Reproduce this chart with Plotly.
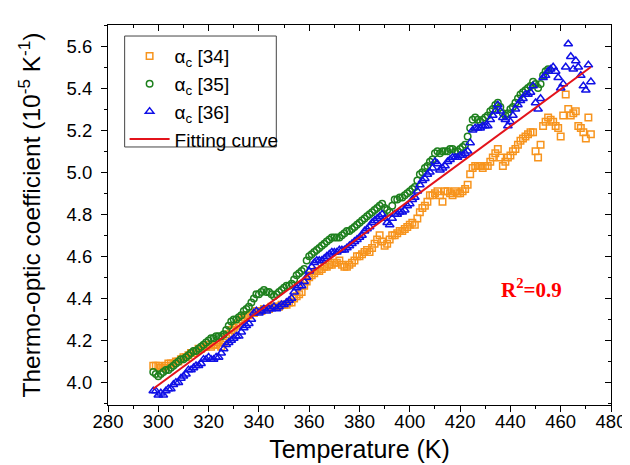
import plotly.graph_objects as go

# Temperature grid (K), one reading per kelvin
temp_34 = list(range(298, 473))
temp_35 = list(range(298, 456))
temp_36 = list(range(298, 473))

alpha_34 = [
    4.08, 4.08, 4.08, 4.07, 4.07, 4.08, 4.09, 4.09, 4.09, 4.10,
    4.10, 4.11, 4.12, 4.12, 4.13, 4.14, 4.14, 4.15, 4.16, 4.16,
    4.17, 4.17, 4.18, 4.17, 4.18, 4.18, 4.19, 4.17, 4.19, 4.21,
    4.23, 4.25, 4.26, 4.27, 4.28, 4.30, 4.31, 4.32, 4.32, 4.33,
    4.33, 4.34, 4.34, 4.34, 4.35, 4.35, 4.35, 4.36, 4.36, 4.36,
    4.36, 4.37, 4.37, 4.37, 4.38, 4.38, 4.40, 4.41, 4.42, 4.43,
    4.46, 4.48, 4.50, 4.51, 4.52, 4.53, 4.53, 4.54, 4.55, 4.55,
    4.56, 4.56, 4.57, 4.57, 4.58, 4.56, 4.55, 4.55, 4.56, 4.57,
    4.58, 4.60, 4.60, 4.61, 4.62, 4.63, 4.62, 4.64, 4.66, 4.68,
    4.70, 4.67, 4.65, 4.66, 4.68, 4.70, 4.70, 4.71, 4.72, 4.72,
    4.73, 4.74, 4.75, 4.76, 4.75, 4.78, 4.81, 4.83, 4.84, 4.86,
    4.89, 4.89, 4.90, 4.91, 4.89, 4.86, 4.91, 4.91, 4.90, 4.89,
    4.91, 4.90, 4.90, 4.91, 4.92, 4.94, 4.99, 5.02, 5.03, 5.03,
    5.03, 5.02, 5.03, 5.03, 5.05, 5.07, 5.09, 5.11, 5.07, 5.03,
    5.05, 5.07, 5.08, 5.10, 5.11, 5.13, 5.15, 5.16, 5.17, 5.18,
    5.19, 5.19, 5.10, 5.07, 5.13, 5.22, 5.24, 5.26, 5.25, 5.24,
    5.22, 5.21, 5.17, 5.27, 5.37, 5.30, 5.27, 5.28, 5.29, 5.22,
    5.21, 5.19, 5.16, 5.26, 5.18,
]

alpha_35 = [
    4.05, 4.04, 4.03, 4.04, 4.05, 4.06, 4.06, 4.07, 4.08, 4.09,
    4.10, 4.11, 4.11, 4.12, 4.13, 4.14, 4.15, 4.15, 4.16, 4.17,
    4.18, 4.19, 4.20, 4.21, 4.21, 4.22, 4.22, 4.22, 4.23, 4.25,
    4.27, 4.29, 4.30, 4.30, 4.31, 4.32, 4.34, 4.35, 4.36, 4.38,
    4.40, 4.42, 4.42, 4.43, 4.44, 4.43, 4.43, 4.42, 4.41, 4.42,
    4.43, 4.44, 4.45, 4.46, 4.46, 4.47, 4.49, 4.51, 4.52, 4.53,
    4.54, 4.58, 4.60, 4.61, 4.62, 4.63, 4.64, 4.65, 4.66, 4.67,
    4.68, 4.69, 4.69, 4.69, 4.69, 4.70, 4.71, 4.72, 4.72, 4.73,
    4.74, 4.75, 4.76, 4.77, 4.78, 4.79, 4.80, 4.81, 4.82, 4.83,
    4.84, 4.85, 4.83, 4.82, 4.81, 4.84, 4.87, 4.87, 4.88, 4.88,
    4.89, 4.90, 4.91, 4.92, 4.93, 4.96, 4.99, 5.00, 5.02, 5.03,
    5.05, 5.06, 5.09, 5.10, 5.09, 5.10, 5.10, 5.10, 5.11, 5.11,
    5.10, 5.10, 5.11, 5.12, 5.13, 5.17, 5.21, 5.25, 5.26, 5.25,
    5.24, 5.25, 5.26, 5.27, 5.29, 5.30, 5.32, 5.33, 5.31, 5.28,
    5.27, 5.28, 5.30, 5.31, 5.33, 5.35, 5.37, 5.38, 5.39, 5.40,
    5.41, 5.43, 5.42, 5.40, 5.42, 5.46, 5.48, 5.49,
]

alpha_36 = [
    3.96, 3.96, 3.94, 3.95, 3.94, 3.96, 3.97, 3.97, 3.99, 4.00,
    4.00, 4.02, 4.03, 4.04, 4.06, 4.06, 4.07, 4.08, 4.08, 4.09,
    4.11, 4.11, 4.12, 4.11, 4.11, 4.12, 4.12, 4.14, 4.16, 4.18,
    4.19, 4.20, 4.21, 4.22, 4.22, 4.24, 4.26, 4.27, 4.28, 4.30,
    4.33, 4.34, 4.33, 4.34, 4.35, 4.34, 4.35, 4.35, 4.36, 4.35,
    4.36, 4.37, 4.37, 4.38, 4.39, 4.40, 4.43, 4.45, 4.46, 4.46,
    4.48, 4.50, 4.53, 4.55, 4.57, 4.58, 4.58, 4.58, 4.59, 4.60,
    4.61, 4.62, 4.62, 4.62, 4.63, 4.63, 4.63, 4.64, 4.65, 4.66,
    4.67, 4.68, 4.69, 4.70, 4.72, 4.73, 4.74, 4.76, 4.77, 4.78,
    4.79, 4.80, 4.78, 4.76, 4.75, 4.78, 4.80, 4.80, 4.81, 4.81,
    4.82, 4.84, 4.85, 4.87, 4.88, 4.91, 4.94, 4.96, 4.97, 4.99,
    5.00, 5.02, 5.05, 5.04, 5.01, 5.02, 5.03, 5.05, 5.06, 5.07,
    5.07, 5.07, 5.08, 5.08, 5.09, 5.10, 5.14, 5.20, 5.21, 5.21,
    5.21, 5.22, 5.22, 5.22, 5.25, 5.27, 5.29, 5.32, 5.29, 5.26,
    5.25, 5.22, 5.24, 5.27, 5.30, 5.32, 5.34, 5.35, 5.37, 5.37,
    5.38, 5.41, 5.33, 5.30, 5.35, 5.45, 5.46, 5.48, 5.49, 5.50,
    5.48, 5.45, 5.40, 5.42, 5.50, 5.61, 5.55, 5.49, 5.53, 5.50,
    5.46, 5.41, 5.39, 5.51, 5.43,
]

fit_temp = [298, 472]
fit_alpha = [3.97, 5.50]

legend_names = ["α<sub>c</sub> [34]", "α<sub>c</sub> [35]", "α<sub>c</sub> [36]", "Fitting curve"]

ORANGE = "#F7941D"
GREEN = "#1E801E"
BLUE = "#1010E6"
RED = "#E3131B"
FONT = "Liberation Sans, Arial, sans-serif"

fig = go.Figure()
fig.add_trace(go.Scatter(
    x=temp_34, y=alpha_34, mode="markers", name=legend_names[0], legendgroup="g1",
    marker=dict(symbol="square-open", size=6.5, color=ORANGE, line=dict(width=1.5, color=ORANGE)),
))
fig.add_trace(go.Scatter(
    x=temp_35, y=alpha_35, mode="markers", name=legend_names[1], legendgroup="g2",
    marker=dict(symbol="circle-open", size=6.5, color=GREEN, line=dict(width=1.5, color=GREEN)),
))
fig.add_trace(go.Scatter(
    x=temp_36, y=alpha_36, mode="markers", name=legend_names[2], legendgroup="g3",
    marker=dict(symbol="triangle-up-open", size=7.5, color=BLUE, line=dict(width=1.5, color=BLUE)),
))
fig.add_trace(go.Scatter(
    x=fit_temp, y=fit_alpha, mode="lines", name=legend_names[3], legendgroup="g4",
    line=dict(color=RED, width=2),
))

xrange = [280, 480]
yrange = [3.893, 5.70]

fig.update_layout(
    width=630, height=465,
    margin=dict(l=100, r=16, t=17, b=68),
    paper_bgcolor="white", plot_bgcolor="white",
    font=dict(family=FONT, size=18, color="black"),
    showlegend=True,
    legend=dict(
        x=0.033, y=0.968, xanchor="left", yanchor="top",
        bgcolor="rgba(0,0,0,0)", borderwidth=0,
        font=dict(family=FONT, size=19, color="black"),
        itemwidth=40, tracegroupgap=0,
    ),
    shapes=[dict(
        type="rect", xref="paper", yref="paper",
        x0=0.0331, x1=0.3346, y0=0.679, y1=0.971,
        line=dict(color="#444444", width=1), fillcolor="white", layer="above",
    )],
    xaxis=dict(
        range=xrange, dtick=20, tick0=280,
        showline=True, linecolor="black", linewidth=1.2, mirror=True,
        ticks="outside", ticklen=6, tickwidth=1.2, tickcolor="black",
        minor=dict(dtick=10, ticks="outside", ticklen=3, tickwidth=1, tickcolor="black"),
        showgrid=False, zeroline=False,
        tickfont=dict(family=FONT, size=18.5),
        ticklabelstandoff=-6,
        title=dict(text="Temperature (K)", font=dict(family=FONT, size=25), standoff=9),
    ),
    yaxis=dict(
        range=yrange, dtick=0.2, tick0=4.0, tickformat=".1f",
        showline=True, linecolor="black", linewidth=1.2, mirror=True,
        ticks="outside", ticklen=6, tickwidth=1.2, tickcolor="black",
        minor=dict(dtick=0.1, ticks="outside", ticklen=3, tickwidth=1, tickcolor="black"),
        showgrid=False, zeroline=False,
        tickfont=dict(family=FONT, size=18.5),
        ticklabelstandoff=5,
        title=dict(text="Thermo-optic coefficient (10<sup>-5</sup> K<sup>-1</sup>)",
                   font=dict(family=FONT, size=24.5), standoff=18),
    ),
    xaxis2=dict(
        overlaying="x", side="top", range=xrange, dtick=20, tick0=280,
        ticks="inside", ticklen=6, tickwidth=1.2, tickcolor="black",
        minor=dict(dtick=10, ticks="inside", ticklen=3, tickwidth=1, tickcolor="black"),
        showticklabels=False, showgrid=False, zeroline=False, showline=False,
    ),
    yaxis2=dict(
        overlaying="y", side="right", range=yrange, dtick=0.2, tick0=4.0,
        ticks="inside", ticklen=6, tickwidth=1.2, tickcolor="black",
        minor=dict(dtick=0.1, ticks="inside", ticklen=3, tickwidth=1, tickcolor="black"),
        showticklabels=False, showgrid=False, zeroline=False, showline=False,
    ),
    annotations=[dict(
        x=448.5, y=4.445, xref="x", yref="y", xanchor="center", yanchor="middle",
        text="<b>R<sup>2</sup>=0.9</b>", showarrow=False,
        font=dict(family="Liberation Serif, Times New Roman, serif", size=21, color="#FF0000"),
    )],
)

# invisible anchor trace so the mirrored tick axes are drawn
fig.add_trace(go.Scatter(x=[None], y=[None], xaxis="x2", yaxis="y2", showlegend=False, hoverinfo="skip"))

fig.write_html("out.html")
